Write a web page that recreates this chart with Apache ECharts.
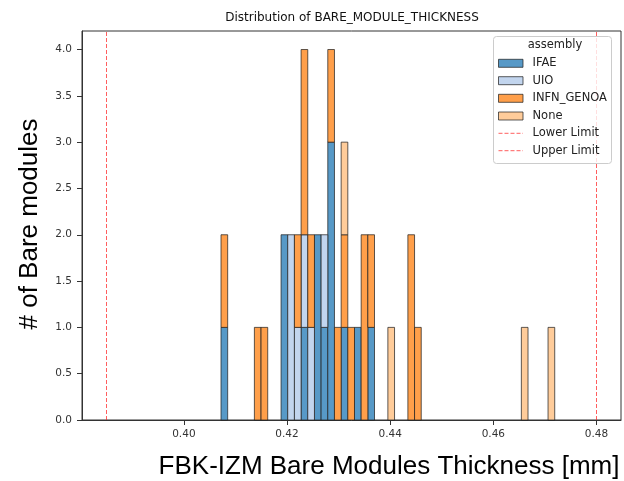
<!DOCTYPE html>
<html>
<head>
<meta charset="utf-8">
<script src="https://cdn.jsdelivr.net/npm/echarts@6/dist/echarts.min.js"></script>
<style>
  html, body { margin: 0; padding: 0; background: #fff; }
  #chart { width: 624px; height: 481px; }
</style>
</head>
<body>
<div id="chart"></div>
<script>
// Histogram layout: 50 equal-width bins over the measured thickness range [mm]
const binStart = 0.4072;
const binWidth = 0.001294;

// Module counts per bin, one array per assembly site (index = bin number)
const countsIFAE = [1,0,0,0,0,0,0,0,0,2, 0,0,1,0,2,1,3,0,1,0, 1,0,1,0,0,0,0,0,0,0, 0,0,0,0,0,0,0,0,0,0, 0,0,0,0,0,0,0,0,0,0];
const countsUIO  = [0,0,0,0,0,0,0,0,0,0, 2,1,1,1,0,1,0,0,0,0, 0,0,0,0,0,0,0,0,0,0, 0,0,0,0,0,0,0,0,0,0, 0,0,0,0,0,0,0,0,0,0];
const countsINFN = [1,0,0,0,0,1,1,0,0,0, 0,1,2,1,0,0,1,1,1,1, 0,2,1,0,0,0,0,0,2,1, 0,0,0,0,0,0,0,0,0,0, 0,0,0,0,0,0,0,0,0,0];
const countsNone = [0,0,0,0,0,0,0,0,0,0, 0,0,0,0,0,0,0,0,1,0, 0,0,0,0,0,1,0,0,0,0, 0,0,0,0,0,0,0,0,0,0, 0,0,0,0,0,1,0,0,0,1];

const assemblies = ['IFAE', 'UIO', 'INFN_GENOA', 'None'];
const assemblyCounts = [countsIFAE, countsUIO, countsINFN, countsNone];
const assemblyColors = ['#5799c7', '#c2d5ee', '#ff9f4a', '#ffcc9a'];

// Specification limits [mm]
const lowerLimit = 0.385;
const upperLimit = 0.48;

// Axis ticks
const xTicks = [0.40, 0.42, 0.44, 0.46, 0.48];
const yTicks = [0.0, 0.5, 1.0, 1.5, 2.0, 2.5, 3.0, 3.5, 4.0];

const xMin = 0.38025, xMax = 0.48475;
const yMin = 0, yMax = 4.2;

// Build stacked rectangles [x0, x1, y0, y1] for each assembly
const base = new Array(countsIFAE.length).fill(0);
const stackedSeries = assemblies.map((name, s) => {
  const items = [];
  assemblyCounts[s].forEach((c, k) => {
    if (c > 0) {
      const x0 = binStart + k * binWidth;
      items.push([x0, x0 + binWidth, base[k], base[k] + c]);
      base[k] += c;
    }
  });
  return {
    name: name,
    type: 'custom',
    silent: true,
    z: 2,
    encode: { x: [0, 1], y: [2, 3] },
    data: items,
    renderItem: function (params, api) {
      const p0 = api.coord([api.value(0), api.value(3)]);
      const p1 = api.coord([api.value(1), api.value(2)]);
      return {
        type: 'rect',
        shape: { x: p0[0], y: p0[1], width: p1[0] - p0[0], height: p1[1] - p0[1] },
        style: { fill: assemblyColors[s], stroke: 'rgba(30,30,30,0.8)', lineWidth: 0.9 }
      };
    }
  };
});

const limitStyle = { color: 'rgba(255,40,40,0.75)', width: 1, type: [4, 2] };
const limitSeries = [lowerLimit, upperLimit].map((v, i) => ({
  name: i === 0 ? 'Lower Limit' : 'Upper Limit',
  type: 'line',
  silent: true,
  symbol: 'none',
  z: 3,
  lineStyle: limitStyle,
  data: [[v, yMin], [v, yMax]]
}));

const tickFont = { fontFamily: 'DejaVu Sans', fontSize: 10.5, color: '#333' };
const legendFont = 'DejaVu Sans';

// Legend drawn as a framed box in the upper right of the plot
const legendRows = [63.3, 80.7, 98.3, 116, 133.3, 150.7];
const legendItems = [
  { type: 'rect', shape: { x: 493.5, y: 36.5, width: 118, height: 127, r: 3 },
    style: { fill: 'rgba(255,255,255,0.8)', stroke: '#cccccc', lineWidth: 1 }, z: 10 },
  { type: 'text', x: 555, y: 45.5, z: 11,
    style: { text: 'assembly', font: '11.5px "DejaVu Sans"', fill: '#222', align: 'center', verticalAlign: 'middle' } }
];
assemblies.forEach((name, i) => {
  legendItems.push({ type: 'rect', z: 11,
    shape: { x: 498.5, y: legendRows[i] - 4, width: 24.5, height: 8 },
    style: { fill: assemblyColors[i], stroke: 'rgba(30,30,30,0.8)', lineWidth: 0.9 } });
  legendItems.push({ type: 'text', x: 532.5, y: legendRows[i], z: 11,
    style: { text: name, font: '11.5px "DejaVu Sans"', fill: '#222', verticalAlign: 'middle' } });
});
['Lower Limit', 'Upper Limit'].forEach((name, j) => {
  const y = legendRows[4 + j];
  legendItems.push({ type: 'line', z: 11,
    shape: { x1: 498.5, y1: y, x2: 523, y2: y },
    style: { stroke: 'rgba(255,40,40,0.75)', lineWidth: 1, lineDash: [4, 2] } });
  legendItems.push({ type: 'text', x: 532.5, y: y, z: 11,
    style: { text: name, font: '11.5px "DejaVu Sans"', fill: '#222', verticalAlign: 'middle' } });
});

const chart = echarts.init(document.getElementById('chart'), null, { renderer: 'canvas' });
chart.setOption({
  animation: false,
  backgroundColor: '#ffffff',
  grid: { left: 82, right: 3, top: 31, bottom: 61, show: true,
          borderColor: '#333', borderWidth: 1, backgroundColor: 'transparent' },
  xAxis: {
    type: 'value', min: xMin, max: xMax,
    axisLine: { show: true, onZero: false, lineStyle: { color: '#333', width: 1 } },
    axisTick: { show: true, length: 5, customValues: xTicks, lineStyle: { color: '#333' } },
    axisLabel: Object.assign({ customValues: xTicks, margin: 9,
      formatter: v => v.toFixed(2) }, tickFont),
    splitLine: { show: false }
  },
  yAxis: {
    type: 'value', min: yMin, max: yMax,
    axisLine: { show: true, lineStyle: { color: '#333', width: 1 } },
    axisTick: { show: true, length: 5, customValues: yTicks, lineStyle: { color: '#333' } },
    axisLabel: Object.assign({ customValues: yTicks, margin: 10,
      formatter: v => v.toFixed(1) }, tickFont),
    splitLine: { show: false }
  },
  series: stackedSeries.concat(limitSeries),
  graphic: [
    { type: 'text', x: 352, y: 18,
      style: { text: 'Distribution of BARE_MODULE_THICKNESS', font: '12px "DejaVu Sans"',
               fill: '#111', align: 'center', verticalAlign: 'middle' } },
    { type: 'text', x: 389, y: 467,
      style: { text: 'FBK-IZM Bare Modules Thickness [mm]', font: '26px "Liberation Sans"',
               fill: '#000', align: 'center', verticalAlign: 'middle' } },
    { type: 'text', x: 30, y: 224, rotation: Math.PI / 2,
      style: { text: '# of Bare modules', font: '26px "Liberation Sans"',
               fill: '#000', align: 'center', verticalAlign: 'middle' } }
  ].concat(legendItems)
});
</script>
</body>
</html>
